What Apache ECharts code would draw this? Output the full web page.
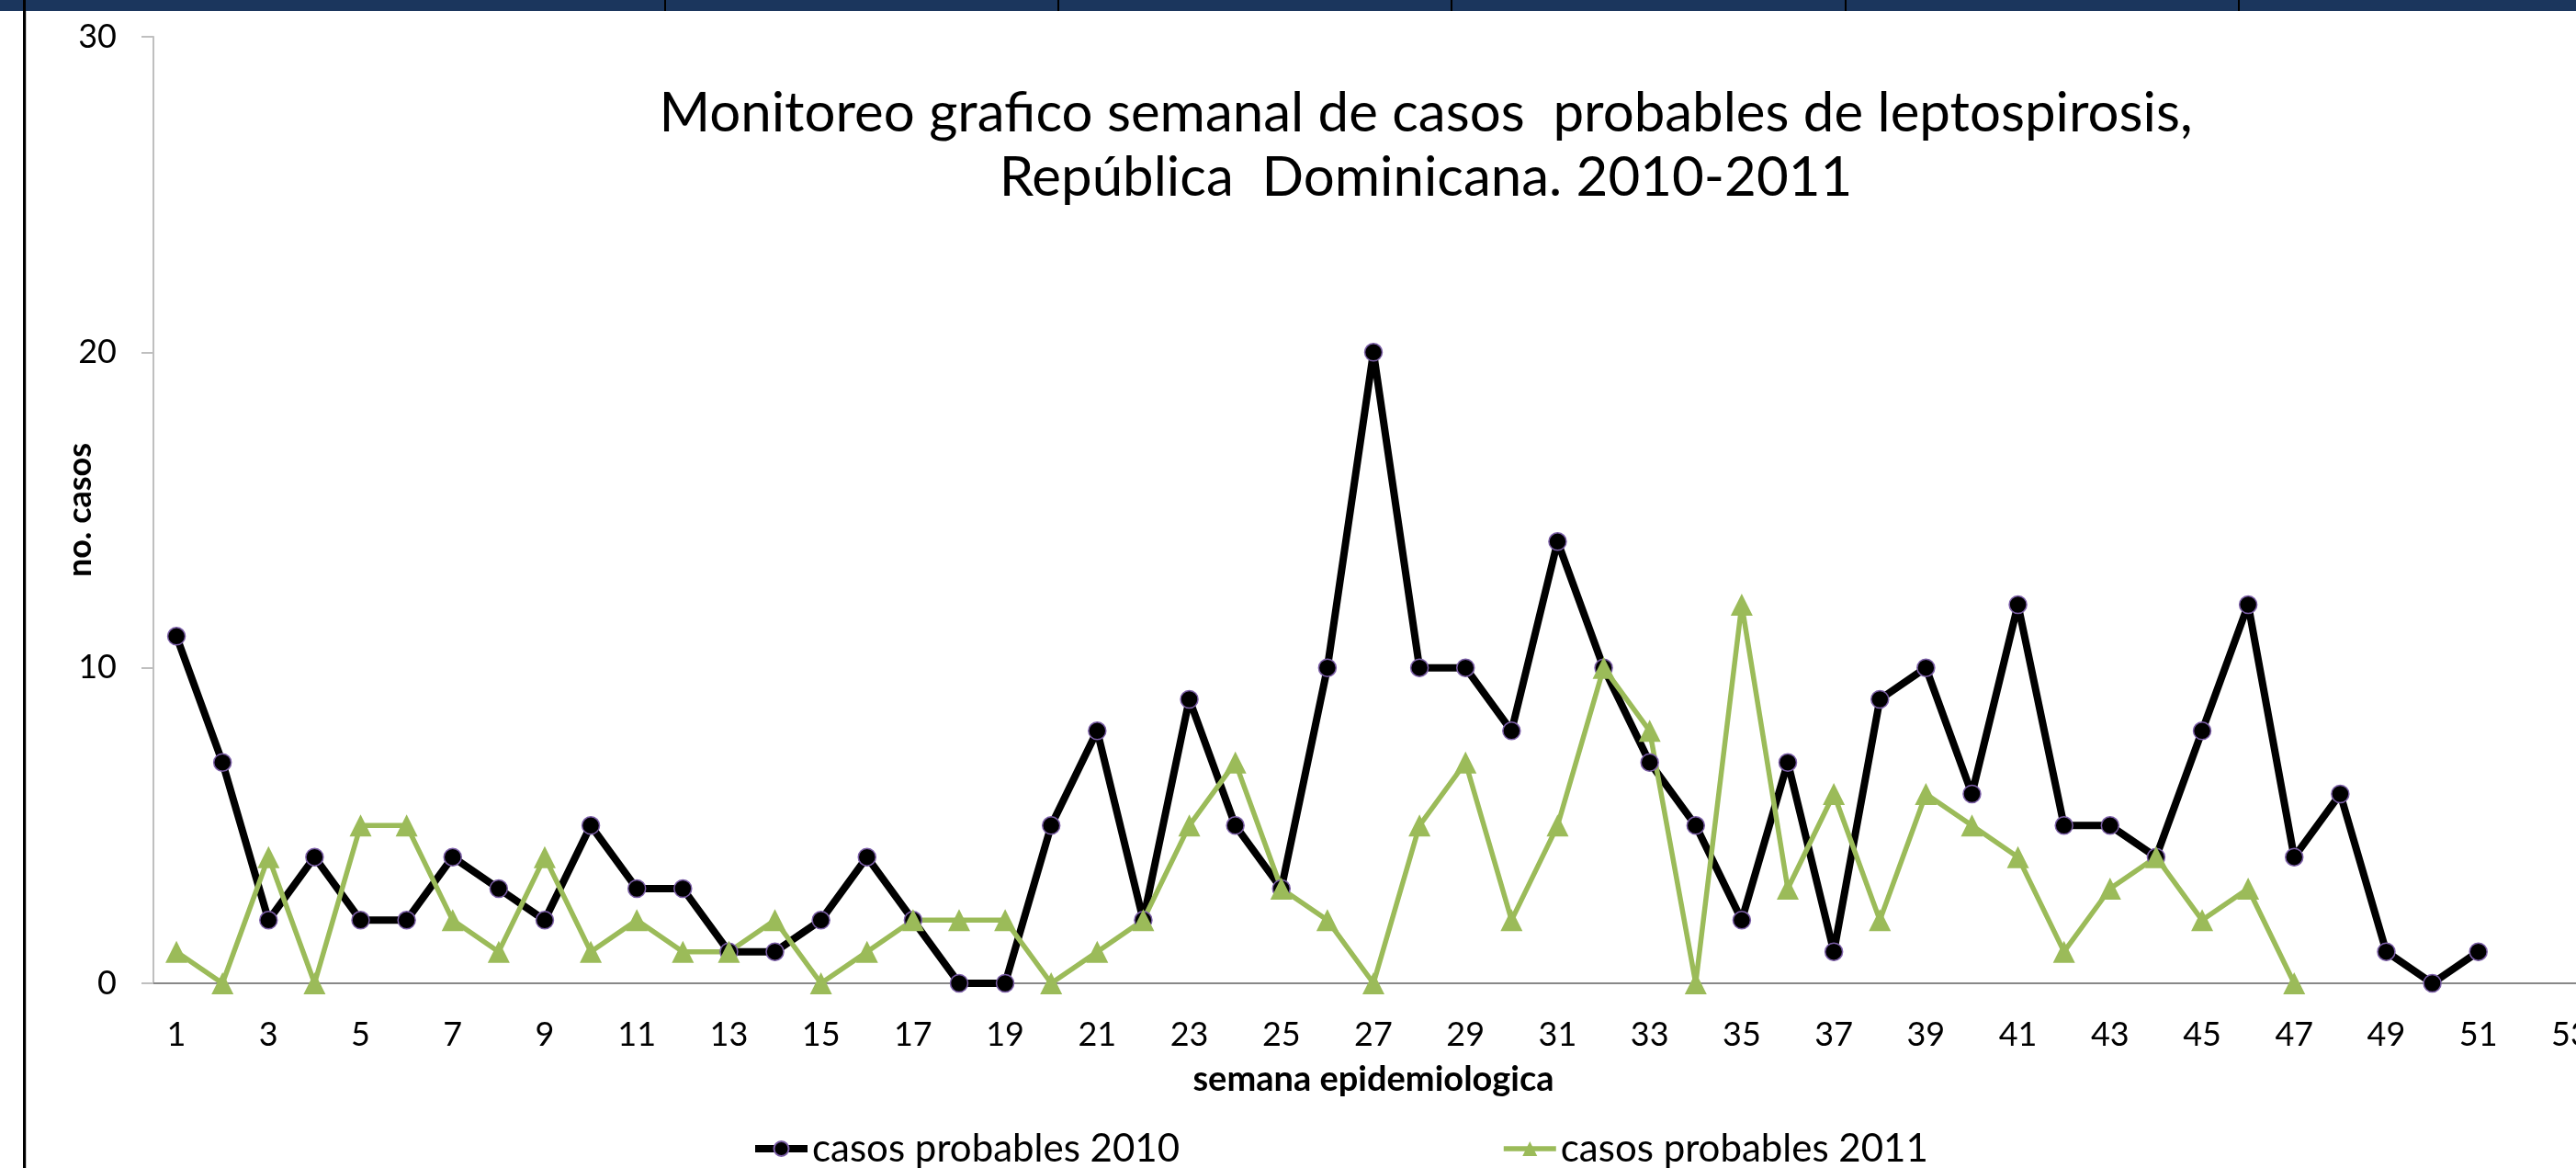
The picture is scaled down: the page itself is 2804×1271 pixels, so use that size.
<!DOCTYPE html>
<html>
<head>
<meta charset="utf-8">
<script src="https://cdn.jsdelivr.net/npm/echarts@6/dist/echarts.min.js"></script>
<style>
  html, body { margin: 0; padding: 0; background: #ffffff; overflow: hidden; width: 2804px; height: 1271px; }
  #chart { width: 2830px; height: 1271px; }
</style>
</head>
<body>
<div id="chart"></div>
<script>
// ---- data ----
const weeks = [];
for (let i = 1; i <= 53; i++) weeks.push(String(i));
const casos2010 = [11, 7, 2, 4, 2, 2, 4, 3, 2, 5, 3, 3, 1, 1, 2, 4, 2, 0, 0, 5,
                   8, 2, 9, 5, 3, 10, 20, 10, 10, 8, 14, 10, 7, 5, 2, 7, 1, 9, 10, 6,
                   12, 5, 5, 4, 8, 12, 4, 6, 1, 0, 1];
const casos2011 = [1, 0, 4, 0, 5, 5, 2, 1, 4, 1, 2, 1, 1, 2, 0, 1, 2, 2, 2, 0,
                   1, 2, 5, 7, 3, 2, 0, 5, 7, 2, 5, 10, 8, 0, 12, 3, 6, 2, 6, 5,
                   4, 1, 3, 4, 2, 3, 0];
const yTicks = [0, 10, 20, 30];
const seriesNames = ['casos probables 2010', 'casos probables 2011'];
const titleText = 'Monitoreo grafico semanal de casos  probables de leptospirosis,\nRepública  Dominicana. 2010-2011';
const xName = 'semana epidemiologica';
const yName = 'no. casos';

const FONT = 'Lato, "Open Sans", "Noto Sans", sans-serif';

const chart = echarts.init(document.getElementById('chart'), null, { renderer: 'canvas' });
chart.setOption({
  animation: false,
  backgroundColor: '#ffffff',
  textStyle: { fontFamily: FONT },
  title: {
    text: titleText,
    left: 1547,
    top: 84,
    textAlign: 'center',
    textStyle: { fontFamily: FONT, fontSize: 60, fontWeight: 'normal', color: '#000000', lineHeight: 70 }
  },
  graphic: [
    { type: 'rect', shape: { x: 0, y: 0, width: 2830, height: 12 }, style: { fill: '#1B365D' }, z: 10 },
    { type: 'rect', shape: { x: 723, y: 0, width: 2, height: 12 }, style: { fill: '#000000' }, z: 11 },
    { type: 'rect', shape: { x: 1151, y: 0, width: 2, height: 12 }, style: { fill: '#000000' }, z: 11 },
    { type: 'rect', shape: { x: 1579, y: 0, width: 2, height: 12 }, style: { fill: '#000000' }, z: 11 },
    { type: 'rect', shape: { x: 2008, y: 0, width: 2, height: 12 }, style: { fill: '#000000' }, z: 11 },
    { type: 'rect', shape: { x: 2436, y: 0, width: 2, height: 12 }, style: { fill: '#000000' }, z: 11 },
    { type: 'rect', shape: { x: 25, y: 0, width: 3, height: 1271 }, style: { fill: '#000000' }, z: 11 },
    { type: 'rect', shape: { x: 28, y: 12, width: 1, height: 1259 }, style: { fill: '#c8c8c8' }, z: 11 }
  ],
  legend: {
    data: [
      { name: seriesNames[0], lineStyle: { width: 8 } },
      { name: seriesNames[1], lineStyle: { width: 5.5 } }
    ],
    left: 813,
    top: 1224,
    itemWidth: 57,
    itemHeight: 20,
    itemGap: 350,
    textStyle: { fontFamily: FONT, fontSize: 42, color: '#000000' }
  },
  grid: { left: 167, top: 40, width: 2656, height: 1030, containLabel: false },
  xAxis: {
    type: 'category',
    data: weeks,
    boundaryGap: true,
    name: xName,
    nameLocation: 'middle',
    nameGap: 86,
    nameMoveOverlap: false,
    nameTextStyle: { fontFamily: FONT, fontSize: 38, fontWeight: 'bold', color: '#000000' },
    axisLine: { show: true, lineStyle: { color: '#888888', width: 2 } },
    axisTick: { show: false },
    axisLabel: { interval: 1, margin: 38, fontFamily: FONT, fontSize: 36, color: '#000000' },
    splitLine: { show: false }
  },
  yAxis: {
    type: 'value',
    min: yTicks[0],
    max: yTicks[yTicks.length - 1],
    interval: 10,
    name: yName,
    nameLocation: 'middle',
    nameGap: 62,
    nameMoveOverlap: false,
    nameRotate: 90,
    nameTextStyle: { fontFamily: FONT, fontSize: 36, fontWeight: 'bold', color: '#000000' },
    axisLine: { show: true, lineStyle: { color: '#bfbfbf', width: 2 } },
    axisTick: { show: true, inside: false, length: 13, lineStyle: { color: '#bfbfbf', width: 2 } },
    axisLabel: { margin: 40, fontFamily: FONT, fontSize: 36, color: '#000000' },
    splitLine: { show: false }
  },
  series: [
    {
      name: seriesNames[0],
      type: 'line',
      data: casos2010,
      symbol: 'circle',
      symbolSize: 19,
      showAllSymbol: true,
      lineStyle: { color: '#000000', width: 8 },
      itemStyle: { color: '#000000', borderColor: '#7b5ea7', borderWidth: 1.5 }
    },
    {
      name: seriesNames[1],
      type: 'line',
      data: casos2011,
      symbol: 'triangle',
      symbolSize: 24,
      showAllSymbol: true,
      lineStyle: { color: '#9BBB59', width: 5.5 },
      itemStyle: { color: '#9BBB59' }
    }
  ]
});
</script>
</body>
</html>
